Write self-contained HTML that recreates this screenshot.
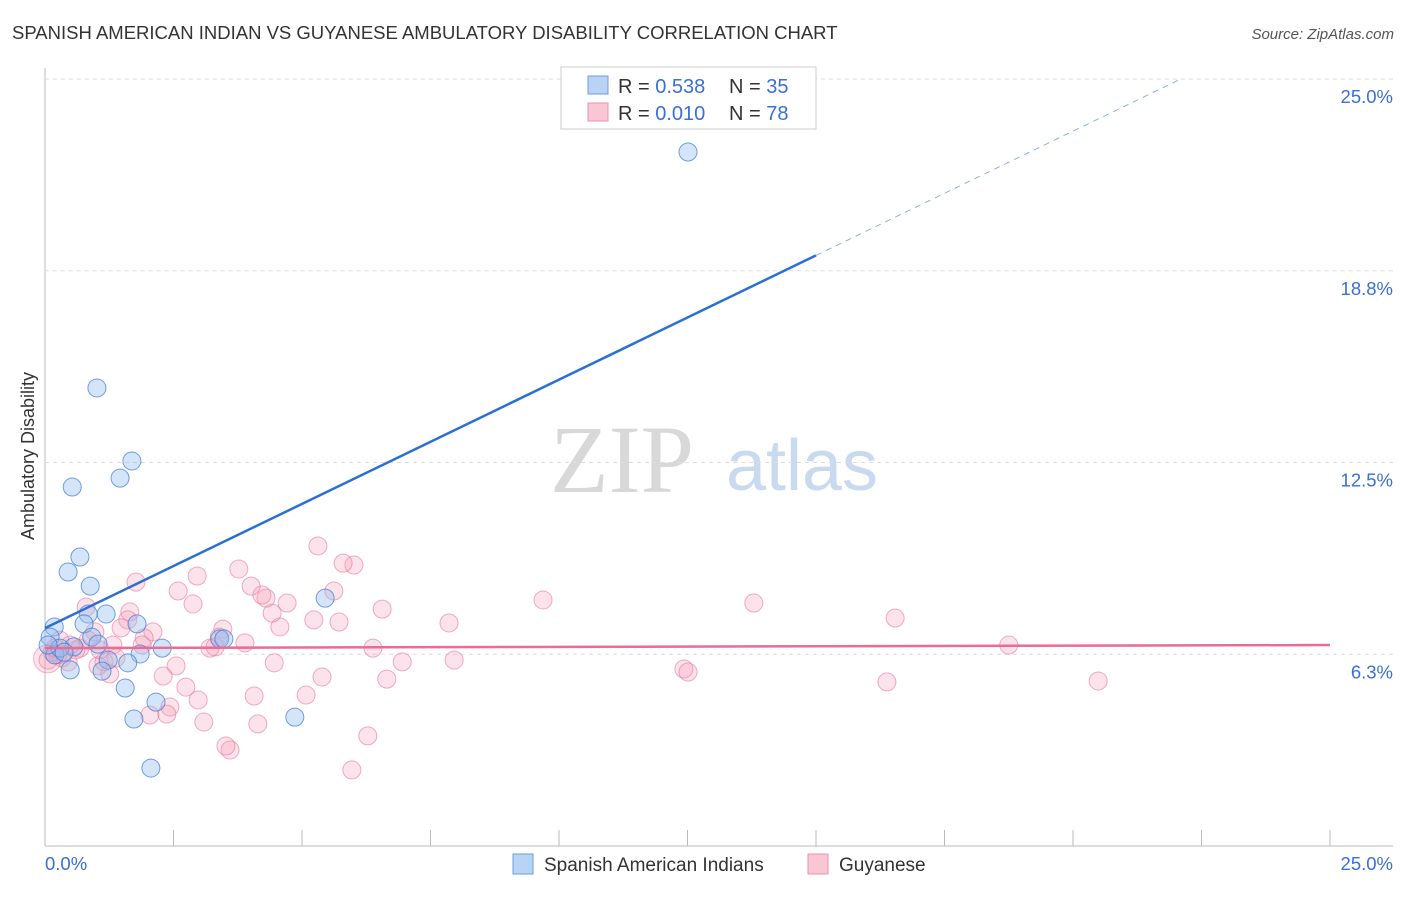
<!DOCTYPE html>
<html><head><meta charset="utf-8"><style>
body{margin:0;background:#fff;font-family:"Liberation Sans",sans-serif}
</style></head><body>
<svg id="c" width="1406" height="892" viewBox="0 0 1406 892" xmlns="http://www.w3.org/2000/svg" font-family="Liberation Sans, sans-serif">
<text x="12" y="39" font-size="18.5" fill="#333">SPANISH AMERICAN INDIAN VS GUYANESE AMBULATORY DISABILITY CORRELATION CHART</text>
<text x="1394" y="39" font-size="15" fill="#555" text-anchor="end" font-style="italic">Source: ZipAtlas.com</text>
<text x="622" y="492" font-size="96" fill="#d8d8d8" font-family="Liberation Serif, serif" text-anchor="middle">ZIP</text>
<text x="802" y="490" font-size="72" fill="#c9daf0" text-anchor="middle">atlas</text>
<text transform="translate(34,456) rotate(-90)" font-size="18" fill="#333" text-anchor="middle">Ambulatory Disability</text>
<g id="grid"></g><g id="pts"></g><g id="lines"></g>
<g>
<rect x="561" y="67" width="255" height="62" fill="#fff" stroke="#ccc"/>
<rect x="588" y="76" width="20" height="18" fill="#b9d3f5" stroke="#6a9de0"/>
<rect x="588" y="103" width="20" height="18" fill="#f9c6d4" stroke="#ee8fac"/>
<text x="618" y="93" font-size="20" fill="#333">R = <tspan fill="#3a6fd8">0.538</tspan></text>
<text x="729" y="93" font-size="20" fill="#333">N = <tspan fill="#3a6fd8">35</tspan></text>
<text x="618" y="120" font-size="20" fill="#333">R = <tspan fill="#3a6fd8">0.010</tspan></text>
<text x="729" y="120" font-size="20" fill="#333">N = <tspan fill="#3a6fd8">78</tspan></text>
</g>
<g>
<rect x="513" y="854" width="20" height="20" fill="#b9d3f5" stroke="#6a9de0"/>
<text x="544" y="871" font-size="19" fill="#333">Spanish American Indians</text>
<rect x="808" y="854" width="20" height="20" fill="#f9c6d4" stroke="#ee8fac"/>
<text x="839" y="871" font-size="19" fill="#333">Guyanese</text>
</g>
</svg>
<script>
const xTickLabels=["0.0%","25.0%"];
const yTicks=[6.25,12.5,18.75,25];
const yTickLabels=["6.3%","12.5%","18.8%","25.0%"];
const blueX=[12.51,1.01,1.69,0.53,1.46,0.68,0.45,0.88,5.45,1.19,0.84,0.76,0.18,1.79,0.10,0.91,1.03,0.56,2.28,1.85,0.19,1.23,1.61,0.49,1.11,1.56,2.16,1.73,4.86,2.06,3.40,3.48,0.29,0.06,0.37];
const blueY=[22.62,14.93,12.55,11.70,11.99,9.42,8.93,8.47,8.08,7.56,7.56,7.24,7.14,7.24,6.81,6.81,6.58,6.49,6.45,6.26,6.23,6.06,5.97,5.74,5.70,5.15,4.69,4.14,4.20,2.54,6.75,6.75,6.45,6.55,6.32];
const pinkX=[18.75,20.49,16.54,16.38,13.79,12.43,12.51,9.69,7.96,7.86,6.95,6.56,6.65,6.38,6.28,5.97,6.01,5.80,5.62,5.72,5.31,5.39,5.23,5.08,4.71,4.57,4.46,4.42,4.30,4.22,4.14,4.07,4.01,3.89,3.77,3.60,3.52,3.46,3.39,3.31,3.21,3.09,2.98,2.96,2.88,2.74,2.59,2.55,2.43,2.37,2.30,2.10,2.04,1.93,1.89,1.77,1.65,1.61,1.48,1.32,1.26,1.15,1.03,0.97,0.80,0.68,0.60,0.45,0.33,0.25,0.14,0.06,0.49,0.84,1.07,0.29,0.19,1.38];
const pinkY=[6.55,5.38,7.43,5.35,7.92,5.77,5.67,8.02,6.06,7.27,6.00,7.72,5.44,6.45,3.59,2.48,9.16,9.22,8.31,7.30,9.78,5.51,7.37,4.92,7.92,7.14,5.97,7.59,8.08,8.18,3.98,4.89,8.47,6.62,9.03,3.13,3.26,7.07,6.81,6.49,6.45,4.04,4.76,8.80,7.89,5.18,8.31,5.87,4.53,4.30,5.54,6.98,4.27,6.78,6.55,8.60,7.63,7.37,7.11,6.55,5.61,6.00,5.87,6.98,7.79,6.45,6.39,6.00,6.13,6.23,6.32,6.06,6.55,6.71,6.39,6.71,6.45,6.13];
const blueFit=[7.1,0.81];
const pinkFit=[6.45,0.004];
const NS="http://www.w3.org/2000/svg";
const X=v=>45+v*51.4, Y=v=>846-v*30.68;
function mk(t,a,p){const e=document.createElementNS(NS,t);for(const k in a)e.setAttribute(k,a[k]);p.appendChild(e);return e;}
const g=document.getElementById('grid');
const ax=mk('line',{x1:45,y1:68,x2:45,y2:846,stroke:'#bbb'},g);


const bx=mk('line',{x1:45,y1:846,x2:1393,y2:846,stroke:'#bbb'},g);


yTicks.forEach((v,i)=>{
 const l=mk('line',{x1:45,y1:Y(v),x2:1393,y2:Y(v),stroke:'#ddd','stroke-dasharray':'4,4'},g);
 
 
 const t=mk('text',{x:1393,y:Y(v)+24,'font-size':18.5,fill:'#3a6fd8','text-anchor':'end'},g);t.textContent=yTickLabels[i];
 
 
});
for(let i=0;i<=10;i++){const l=mk('line',{x1:X(i*2.5),y1:830,x2:X(i*2.5),y2:846,stroke:'#bbb'},g);
 
 }
[[0,'start'],[25,'end']].forEach(([v,a],i)=>{const t=mk('text',{x:i?1393:45,y:870,'font-size':18.5,fill:'#3a6fd8','text-anchor':a},g);t.textContent=xTickLabels[i];
 
 });
const p=document.getElementById('pts');
const big=mk('circle',{cx:X(0.05),cy:Y(6.1),r:14,fill:'rgba(244,160,185,0.3)',stroke:'rgba(230,120,155,0.5)'},p);


pinkX.forEach((x,i)=>{const c=mk('circle',{cx:X(x),cy:Y(pinkY[i]),r:9,fill:'rgba(244,160,185,0.3)',stroke:'rgba(230,120,155,0.6)'},p);
 
 });
blueX.forEach((x,i)=>{const c=mk('circle',{cx:X(x),cy:Y(blueY[i]),r:9,fill:'rgba(150,190,240,0.4)',stroke:'rgba(60,120,210,0.7)'},p);
 
 });
const L=document.getElementById('lines');
const b1=mk('line',{x1:X(0),y1:Y(blueFit[0]),x2:X(15),y2:Y(blueFit[0]+15*blueFit[1]),stroke:'#2b6fd6','stroke-width':2.5},L);


const xe=(25-blueFit[0])/blueFit[1];
const b2=mk('line',{x1:X(15),y1:Y(blueFit[0]+15*blueFit[1]),x2:X(xe),y2:Y(25),stroke:'#8fb0e0','stroke-width':1,'stroke-dasharray':'6,5'},L);


const p1=mk('line',{x1:X(0),y1:Y(pinkFit[0]),x2:X(25),y2:Y(pinkFit[0]+25*pinkFit[1]),stroke:'#ec6a93','stroke-width':2.5},L);


</script>
</body></html>
